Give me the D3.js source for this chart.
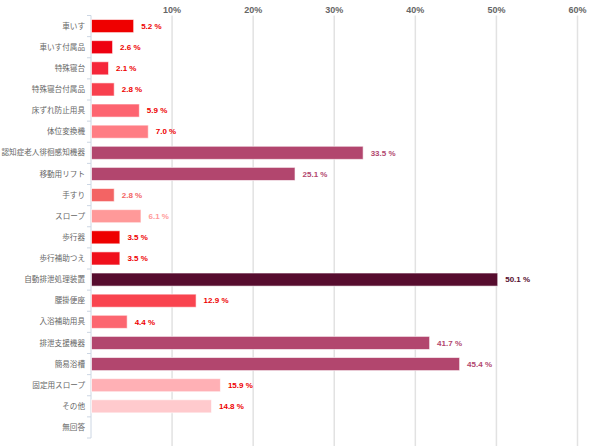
<!DOCTYPE html>
<html>
<head>
<meta charset="utf-8">
<script src="https://cdn.jsdelivr.net/npm/d3@7"></script>
<style>
  html, body { margin: 0; padding: 0; background: #fff; }
  svg text { font-family: "Liberation Sans", Arial, "Noto Sans CJK JP", sans-serif; }
</style>
</head>
<body>
<div id="chart"></div>
<script>
// categories, top to bottom
const categories = ['車いす', '車いす付属品', '特殊寝台', '特殊寝台付属品', '床ずれ防止用具', '体位変換機',
  '認知症老人徘徊感知機器', '移動用リフト', '手すり', 'スロープ', '歩行器', '歩行補助つえ',
  '自動排泄処理装置', '腰掛便座', '入浴補助用具', '排泄支援機器', '簡易浴槽', '固定用スロープ', 'その他', '無回答'];
const values = [5.2, 2.6, 2.1, 2.8, 5.9, 7.0, 33.5, 25.1, 2.8, 6.1, 3.5, 3.5, 50.1, 12.9, 4.4, 41.7, 45.4, 15.9, 14.8, 0];
const barColors = ['#ef0000', '#ee0010', '#f5263a', '#f8404e', '#fd6470', '#ff7d84',
  '#b2466e', '#b2466e', '#f36464', '#ff9999', '#ee0000', '#f0101c',
  '#560c2e', '#f9444f', '#fc6670', '#b2466e', '#b2466e', '#ffb0b5', '#ffcacd', '#ffcacd'];
const labelColors = ['#ee0000', '#ee0000', '#ee0000', '#ee0000', '#ee0000', '#ee0000',
  '#b2466e', '#b2466e', '#f36464', '#ff9999', '#ee0000', '#ee0000',
  '#560c2e', '#ee0000', '#ee0000', '#b2466e', '#b2466e', '#ee0000', '#ee0000', '#ee0000'];
const xTicks = [10, 20, 30, 40, 50, 60];

const W = 599, H = 446;
const mLeft = 91, mRight = 577.5, mTop = 15.5, mBottom = 438;

const svg = d3.select('#chart').append('svg')
  .attr('width', W)
  .attr('height', H);

const x = d3.scaleLinear().domain([0, 60]).range([mLeft, mRight]);
const y = d3.scaleBand().domain(categories).range([mTop, mBottom]).paddingInner(0.38).paddingOuter(0.19);

const rows = categories.map((c, i) => ({ cat: c, value: values[i], bar: barColors[i], label: labelColors[i] }));

// grid lines
svg.append('g').selectAll('line')
  .data(xTicks).enter().append('line')
  .attr('x1', d => x(d)).attr('x2', d => x(d))
  .attr('y1', mTop).attr('y2', H)
  .attr('stroke', '#e2e2e2')
  .attr('stroke-width', 1.5);

// top tick labels
svg.append('g').selectAll('text')
  .data(xTicks).enter().append('text')
  .attr('x', d => x(d))
  .attr('y', 13)
  .attr('text-anchor', 'middle')
  .attr('font-size', 9)
  .attr('font-weight', 'bold')
  .attr('fill', '#666')
  .text(d => d + '%');

// left axis line with small ticks between categories
const step = (mBottom - mTop) / categories.length;
svg.append('line')
  .attr('x1', mLeft).attr('x2', mLeft)
  .attr('y1', mTop).attr('y2', mBottom)
  .attr('stroke', '#ccd6e3').attr('stroke-width', 1);
svg.append('g').selectAll('line')
  .data(d3.range(categories.length + 1)).enter().append('line')
  .attr('x1', mLeft - 4).attr('x2', mLeft)
  .attr('y1', i => mTop + i * step).attr('y2', i => mTop + i * step)
  .attr('stroke', '#ccd6e3').attr('stroke-width', 1);

// category labels
svg.append('g').selectAll('text')
  .data(rows).enter().append('text')
  .attr('x', mLeft - 6)
  .attr('y', d => y(d.cat) + y.bandwidth() / 2)
  .attr('dy', '0.35em')
  .attr('text-anchor', 'end')
  .attr('font-size', 7.6)
  .attr('fill', '#666')
  .text(d => d.cat);

// bars
svg.append('g').selectAll('rect')
  .data(rows.filter(d => d.value > 0)).enter().append('rect')
  .attr('x', x(0) + 0.5)
  .attr('y', d => y(d.cat))
  .attr('width', d => x(d.value) - x(0))
  .attr('height', y.bandwidth())
  .attr('fill', d => d.bar)
  .attr('stroke', 'rgba(255,255,255,0.6)')
  .attr('stroke-width', 1);

// value labels
svg.append('g').selectAll('text')
  .data(rows.filter(d => d.value > 0)).enter().append('text')
  .attr('x', d => x(d.value) + 8)
  .attr('y', d => y(d.cat) + y.bandwidth() / 2)
  .attr('dy', '0.35em')
  .attr('font-size', 8)
  .attr('font-weight', 'bold')
  .attr('fill', d => d.label)
  .text(d => d.value.toFixed(1) + ' %');
</script>
</body>
</html>
